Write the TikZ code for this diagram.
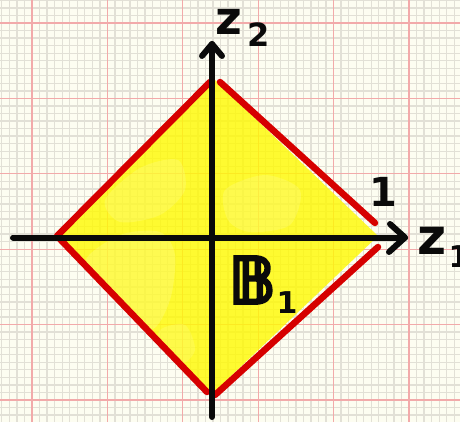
\documentclass[tikz,border=0pt]{standalone}
\usepackage{fontspec}
\newfontfamily\hand{DejaVu Sans}
\newfontfamily\handbb{DejaVu Sans}[FakeBold=5]
\definecolor{paper}{RGB}{253,253,241}
\definecolor{minorgrid}{RGB}{226,224,214}
\definecolor{majorgrid}{RGB}{242,170,170}
\definecolor{penred}{RGB}{214,0,0}
\definecolor{penblack}{RGB}{10,10,10}
\definecolor{paint}{RGB}{255,250,0}
\tikzset{
  minorline/.style={draw=minorgrid,line width=1.3pt},
  majorline/.style={draw=majorgrid,line width=1.2pt},
  axisline/.style={draw=penblack,line width=6pt,line cap=round,line join=round},
  edgeline/.style={draw=penred,line width=6.5pt,line cap=round,line join=round},
  handlabel/.style={text=penblack,inner sep=0pt,font=\hand\bfseries},
}
\begin{document}
\begin{tikzpicture}[x=1pt,y=-1pt]
  \useasboundingbox (0,0) rectangle (460,422);
  \clip (0,0) rectangle (460,422);
  % paper
  \fill[paper] (0,0) rectangle (460,422);
  \foreach \k in {-5,...,60} {
    \draw[minorline] ({32+7.54*\k},0) -- ({32+7.54*\k},422);
    \draw[minorline] (0,{23+7.54*\k}) -- (460,{23+7.54*\k});
  }
  \foreach \k in {-1,...,6} {
    \draw[majorline] ({32+75.4*\k},0) -- ({32+75.4*\k},422);
    \draw[majorline] (0,{23+75.4*\k}) -- (460,{23+75.4*\k});
  }
  % diamond vertices
  \coordinate (L) at (57,236);
  \coordinate (T) at (215,80);
  \coordinate (R) at (378,236);
  \coordinate (B) at (211,395);
  % yellow paint
  \fill[paint,opacity=0.8] (L) -- (T) -- (R) -- (B) -- cycle;
  \begin{scope}
    \clip (L) -- (T) -- (R) -- (B) -- cycle;
    \fill[white,opacity=0.16] plot[smooth cycle] coordinates {(85,262) (120,235) (160,232) (175,255) (170,300) (150,330) (110,300)};
    \fill[white,opacity=0.14] plot[smooth cycle] coordinates {(105,200) (140,168) (178,160) (185,190) (160,215) (120,222)};
    \fill[white,opacity=0.14] plot[smooth cycle] coordinates {(225,190) (265,175) (300,190) (290,225) (250,232) (228,220)};
    \fill[white,opacity=0.12] plot[smooth cycle] coordinates {(160,330) (185,325) (195,350) (180,365) (160,352)};
  \end{scope}
  % red edges (hand drawn, small gaps at top, right, bottom)
  \coordinate (tl) at (210,82);
  \coordinate (tr) at (220,82);
  \coordinate (ru) at (375,223);
  \coordinate (rd) at (378,247);
  \coordinate (bl) at (207,392);
  \coordinate (br) at (215,395);
  \draw[edgeline] (tl) -- (L) -- (bl);
  \draw[edgeline] (tr) -- (ru);
  \draw[edgeline] (rd) -- (br);
  % axes
  \coordinate (xs) at (13,237.5);
  \coordinate (xe) at (405,237.5);
  \coordinate (ys) at (212,417);
  \coordinate (ye) at (212,44);
  \coordinate (xw1) at (390,224);
  \coordinate (xw2) at (389,252);
  \coordinate (yw1) at (202,56);
  \coordinate (yw2) at (222,56);
  \draw[axisline] (xs) -- (xe);
  \draw[axisline] (ys) -- (ye);
  \draw[axisline] (xw1) -- (xe) -- (xw2);
  \draw[axisline] (yw1) -- (ye) -- (yw2);
  % labels
  \node[handlabel,font=\hand\bfseries\fontsize{46}{46}\selectfont] (z2) at (229,22) {z};
  \node[handlabel,font=\hand\bfseries\fontsize{32}{32}\selectfont] (s2) at (259,35) {2};
  \node[handlabel,font=\hand\bfseries\fontsize{50}{50}\selectfont] (z1) at (432,241) {z};
  \node[handlabel,font=\hand\bfseries\fontsize{30}{30}\selectfont] (s1) at (459,257) {1};
  \node[handlabel,font=\hand\bfseries\fontsize{40}{40}\selectfont] (one) at (383,192) {1};
  \node[handlabel,font=\handbb\fontsize{64}{64}\selectfont] (bb) at (252,280) {𝔹};
  \node[handlabel,font=\hand\bfseries\fontsize{30}{30}\selectfont] (sb) at (287,303) {1};
\end{tikzpicture}
\end{document}
